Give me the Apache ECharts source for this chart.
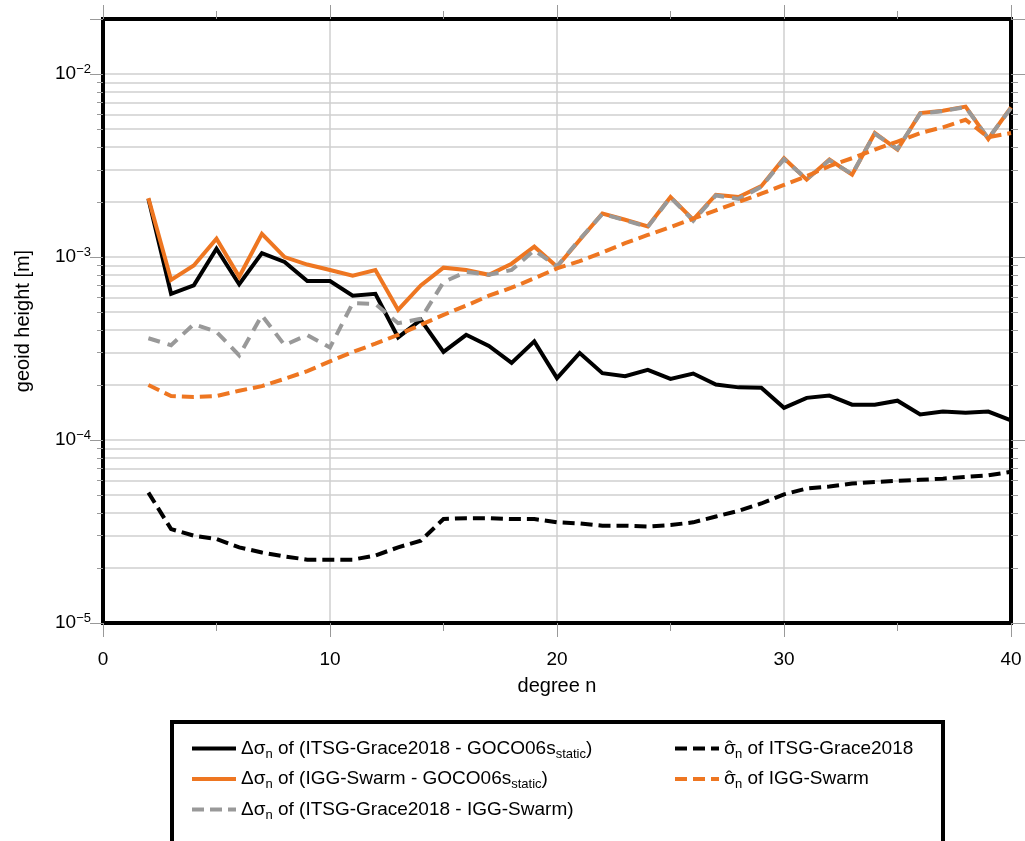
<!DOCTYPE html>
<html>
<head>
<meta charset="utf-8">
<script src="https://cdn.jsdelivr.net/npm/echarts@6/dist/echarts.min.js"></script>
<style>
html, body { margin: 0; padding: 0; background: #fff; }
#chart { width: 1025px; height: 841px; }
</style>
</head>
<body>
<div id="chart"></div>
<script>
// degree n
const degrees = [2,3,4,5,6,7,8,9,10,11,12,13,14,15,16,17,18,19,20,21,22,23,24,25,26,27,28,29,30,31,32,33,34,35,36,37,38,39,40];

// Δσn of (ITSG-Grace2018 - GOCO06s_static)
const itsgMinusGoco = [2.08e-3,6.3e-4,7.0e-4,1.11e-3,7.1e-4,1.05e-3,9.4e-4,7.4e-4,7.4e-4,6.15e-4,6.3e-4,3.64e-4,4.54e-4,3.03e-4,3.76e-4,3.27e-4,2.64e-4,3.46e-4,2.18e-4,
  2.99e-4,2.32e-4,2.23e-4,2.42e-4,2.16e-4,2.31e-4,2.01e-4,1.94e-4,1.93e-4,1.50e-4,1.70e-4,1.75e-4,1.56e-4,1.56e-4,1.64e-4,1.38e-4,1.43e-4,1.41e-4,1.43e-4,1.28e-4];

// Δσn of (IGG-Swarm - GOCO06s_static)
const iggMinusGoco = [2.1e-3,7.5e-4,9.0e-4,1.26e-3,7.8e-4,1.34e-3,1.0e-3,9.1e-4,8.5e-4,7.9e-4,8.5e-4,5.14e-4,7.0e-4,8.75e-4,8.5e-4,8.0e-4,9.2e-4,1.14e-3,8.85e-4,
  1.24e-3,1.73e-3,1.60e-3,1.47e-3,2.13e-3,1.60e-3,2.19e-3,2.13e-3,2.44e-3,3.47e-3,2.65e-3,3.41e-3,2.82e-3,4.76e-3,3.86e-3,6.12e-3,6.3e-3,6.64e-3,4.42e-3,6.58e-3];

// Δσn of (ITSG-Grace2018 - IGG-Swarm)
const itsgMinusIgg = [3.6e-4,3.3e-4,4.3e-4,3.9e-4,2.9e-4,4.8e-4,3.3e-4,3.75e-4,3.2e-4,5.6e-4,5.55e-4,4.35e-4,4.6e-4,7.3e-4,8.3e-4,8.0e-4,8.5e-4,1.09e-3,8.9e-4,
  1.25e-3,1.72e-3,1.59e-3,1.46e-3,2.12e-3,1.58e-3,2.17e-3,2.08e-3,2.42e-3,3.43e-3,2.67e-3,3.38e-3,2.84e-3,4.72e-3,3.9e-3,6.08e-3,6.28e-3,6.6e-3,4.45e-3,6.52e-3];

// σ̂n of ITSG-Grace2018
const sigmaItsg = [5.16e-5,3.26e-5,3.0e-5,2.88e-5,2.59e-5,2.43e-5,2.31e-5,2.22e-5,2.22e-5,2.22e-5,2.34e-5,2.59e-5,2.82e-5,3.70e-5,3.74e-5,3.74e-5,3.70e-5,3.70e-5,3.55e-5,
  3.50e-5,3.40e-5,3.40e-5,3.37e-5,3.43e-5,3.55e-5,3.82e-5,4.10e-5,4.50e-5,5.05e-5,5.43e-5,5.57e-5,5.78e-5,5.9e-5,5.98e-5,6.06e-5,6.15e-5,6.29e-5,6.41e-5,6.7e-5];

// σ̂n of IGG-Swarm
const sigmaIgg = [2.0e-4,1.74e-4,1.72e-4,1.74e-4,1.86e-4,1.97e-4,2.16e-4,2.38e-4,2.69e-4,3.03e-4,3.36e-4,3.76e-4,4.26e-4,4.83e-4,5.43e-4,6.15e-4,6.8e-4,7.65e-4,8.67e-4,
  9.5e-4,1.06e-3,1.19e-3,1.32e-3,1.46e-3,1.62e-3,1.80e-3,2.0e-3,2.22e-3,2.48e-3,2.77e-3,3.14e-3,3.47e-3,3.87e-3,4.28e-3,4.76e-3,5.12e-3,5.63e-3,4.52e-3,4.76e-3];

const xTicks = [0, 10, 20, 30, 40];

const FONT = 'Liberation Sans, Arial, Helvetica, sans-serif';
const ORANGE = '#EE7621';
const GREY = '#999999';
const TICK = '#999999';
const GRID = '#cfcfcf';

const pair = arr => degrees.map((n, i) => [n, arr[i]]);

const ICON_SOLID = 'path://M0,0H44V4H0Z';
const ICON_DASH = 'path://M0,0H12V4H0Z M18,0H30V4H18Z M36,0H44V4H36Z';

const legendRich = {
  t: { fontSize: 19, fontFamily: FONT, color: '#000', lineHeight: 24, verticalAlign: 'middle' },
  g: { fontSize: 19, fontFamily: FONT, color: '#000', lineHeight: 24, verticalAlign: 'middle', width: 0 },
  h: { fontSize: 19, fontFamily: FONT, color: '#000', lineHeight: 24, verticalAlign: 'middle', width: 9, padding: [0, 0, 0, 2] },
  s: { fontSize: 13, fontFamily: FONT, color: '#000', lineHeight: 24, verticalAlign: 'bottom' }
};
const legendText = {
  'a': '{t|\u0394\u03C3}{s|n}{t| of (ITSG-Grace2018 - GOCO06s}{s|static}{t|)}',
  'b': '{t|\u0394\u03C3}{s|n}{t| of (IGG-Swarm - GOCO06s}{s|static}{t|)}',
  'c': '{t|\u0394\u03C3}{s|n}{t| of (ITSG-Grace2018 - IGG-Swarm)}',
  'd': '{g|\u03C3}{h|\u02C6}{s|n}{t| of ITSG-Grace2018}',
  'e': '{g|\u03C3}{h|\u02C6}{s|n}{t| of IGG-Swarm}'
};

const yLabel = v => {
  const e = Math.log10(v);
  if (Math.abs(e - Math.round(e)) > 1e-6) return '';
  return '{b|10}{p|\u2212' + (-Math.round(e)) + '}';
};

const BORDER = { show: true, onZero: false, lineStyle: { color: '#000', width: 4, cap: 'square' } };

const logAxisBase = {
  type: 'log',
  logBase: 10,
  min: 1e-5,
  max: 2e-2,
  axisLine: BORDER,
};

const chart = echarts.init(document.getElementById('chart'), null, { renderer: 'canvas' });

const lineSeries = (name, arr, color, type, z) => ({
  name, type: 'line', data: pair(arr), xAxisIndex: 0, yAxisIndex: 0,
  showSymbol: false, symbol: 'none', z,
  lineStyle: { color, width: 4, type, cap: 'butt', join: 'miter' },
  itemStyle: { color },
  emphasis: { disabled: true },
  animation: false
});

const legendCommon = {
  orient: 'vertical', top: 734, itemGap: 9,
  itemWidth: 44, itemHeight: 4,
  formatter: n => legendText[n],
  textStyle: { rich: legendRich },
  selectedMode: false
};

chart.setOption({
  animation: false,
  backgroundColor: '#fff',
  textStyle: { fontFamily: FONT },
  grid: { left: 103, right: 14, top: 19, bottom: 218, show: false },
  graphic: [{
    type: 'rect', z: 0,
    shape: { x: 172, y: 722, width: 771, height: 135 },
    style: { fill: '#fff', stroke: '#000', lineWidth: 4 }
  }],
  xAxis: [{
    type: 'value', position: 'bottom', min: 0, max: 40, interval: 10,
    name: 'degree n', nameLocation: 'middle', nameGap: 53,
    nameTextStyle: { fontSize: 20, color: '#000', fontFamily: FONT },
    axisLine: BORDER,
    axisTick: { show: true, inside: false, length: 14, lineStyle: { color: TICK, width: 1 } },
    minorTick: { show: true, splitNumber: 2, length: 8, lineStyle: { color: TICK, width: 1 } },
    axisLabel: { fontSize: 19, color: '#000', margin: 27, fontFamily: FONT,
      formatter: v => xTicks.includes(v) ? String(v) : '' },
    splitLine: { show: true, lineStyle: { color: GRID, width: 1.5 } }
  }, {
    type: 'value', position: 'top', min: 0, max: 40, interval: 10,
    axisLine: BORDER,
    axisTick: { show: true, inside: false, length: 14, lineStyle: { color: TICK, width: 1 } },
    minorTick: { show: true, splitNumber: 2, length: 8, lineStyle: { color: TICK, width: 1 } },
    axisLabel: { show: false },
    splitLine: { show: false }
  }],
  yAxis: [Object.assign({}, logAxisBase, {
    position: 'left',
    name: 'geoid height [m]', nameLocation: 'middle', nameGap: 70, nameRotate: 90,
    nameTextStyle: { fontSize: 20, color: '#000', fontFamily: FONT },
    axisTick: { show: true, inside: false, length: 13, lineStyle: { color: TICK, width: 1 } },
    minorTick: { show: true, splitNumber: 9, length: 6, lineStyle: { color: TICK, width: 1 } },
    axisLabel: { show: true, margin: 12, formatter: yLabel,
      rich: {
        b: { fontSize: 19, fontFamily: FONT, color: '#000', lineHeight: 22 },
        p: { fontSize: 13, fontFamily: FONT, color: '#000', lineHeight: 22, verticalAlign: 'top' }
      } },
    splitLine: { show: true, lineStyle: { color: GRID, width: 1.5 } },
    minorSplitLine: { show: true, lineStyle: { color: GRID, width: 1.5 } }
  }), Object.assign({}, logAxisBase, {
    position: 'right',
    axisTick: { show: true, inside: false, length: 14, lineStyle: { color: TICK, width: 1 } },
    minorTick: { show: true, splitNumber: 9, length: 7, lineStyle: { color: TICK, width: 1 } },
    axisLabel: { show: false },
    splitLine: { show: false },
    minorSplitLine: { show: false }
  })],
  legend: [Object.assign({}, legendCommon, {
    left: 187,
    data: [{ name: 'a', icon: ICON_SOLID }, { name: 'b', icon: ICON_SOLID }, { name: 'c', icon: ICON_DASH }]
  }), Object.assign({}, legendCommon, {
    left: 670,
    data: [{ name: 'd', icon: ICON_DASH }, { name: 'e', icon: ICON_DASH }]
  })],
  series: [
    lineSeries('a', itsgMinusGoco, '#000', 'solid', 2),
    lineSeries('b', iggMinusGoco, ORANGE, 'solid', 3),
    lineSeries('c', itsgMinusIgg, GREY, [12, 8], 4),
    lineSeries('d', sigmaItsg, '#000', [12, 6], 5),
    lineSeries('e', sigmaIgg, ORANGE, [12, 6], 6)
  ]
});
</script>
</body>
</html>
